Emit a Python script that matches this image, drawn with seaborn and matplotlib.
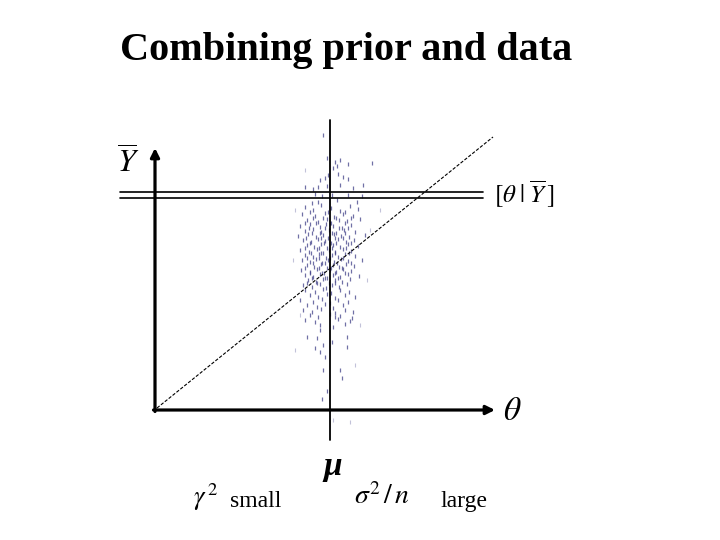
import matplotlib
matplotlib.use("Agg")
import matplotlib.pyplot as plt
import seaborn as sns
import pandas as pd

sns.set_style("white")
plt.rcParams["font.family"] = ["Liberation Serif", "DejaVu Serif"]
plt.rcParams["mathtext.fontset"] = "stix"
plt.rcParams["text.color"] = "black"

# ---- data (diagram units: theta horizontal, Ybar vertical) ----
title = "Combining prior and data"
prior_mean = 175          # position of mu on theta axis
posterior_levels = [218, 212]   # the double line [theta | Ybar]
theta_axis_end = 340
ybar_axis_end = 262
diag_start = [2, 2]
diag_end = [338, 273]

cloud_theta = [
    168, 217, 172, 180, 185, 193, 178, 182, 173, 183, 188, 193, 165, 170, 163, 172, 185, 158, 150, 208,
    198, 177, 160, 167, 193, 207, 182, 157, 163, 202,
    150, 158, 166, 176, 185, 195, 203,
    147, 160, 170, 179, 188, 198,
    152, 163, 172, 176, 184, 192, 205,
    145, 155, 165, 171, 178, 187, 196,
    150, 158, 166, 174, 181, 189, 200,
    143, 153, 161, 168, 173, 179, 186, 194, 210,
    148, 156, 163, 170, 176, 183, 191, 199,
    152, 159, 166, 172, 178, 185, 193, 203,
    145, 154, 162, 168, 174, 180, 188, 196,
    150, 158, 164, 171, 177, 183, 190, 200,
    147, 155, 161, 167, 173, 179, 186, 193, 207,
    152, 159, 166, 172, 178, 184, 191, 199,
    146, 155, 162, 169, 175, 181, 188, 196,
    150, 158, 165, 172, 178, 185, 193, 204,
    153, 161, 168, 174, 180, 187, 195,
    148, 157, 165, 171, 177, 184, 192,
    150, 160, 168, 176, 185, 194,
    155, 163, 172, 180, 190, 200,
    145, 158, 167, 175, 183, 193,
    152, 162, 170, 178, 188,
    148, 157, 166, 180, 190, 198,
    155, 163, 175, 185,
    150, 160, 183, 195,
    165, 178, 190,
    165, 162, 152, 168, 177, 192, 197, 180, 160, 165, 170, 192, 168, 185, 187, 172, 167,
]
cloud_ybar = [
    275, 247, 252, 248, 250, 246, 242, 244, 235, 236, 233, 231, 230, 232, 223, 224, 225, 221, 223, 225,
    222, 215, 216, 214, 215, 214, 210, 207, 208, 208,
    203, 200, 205, 202, 199, 204, 201,
    196, 194, 197, 193, 196, 194,
    190, 188, 191, 187, 190, 189, 191,
    184, 186, 183, 186, 184, 182, 185,
    179, 181, 178, 180, 177, 180, 178,
    174, 176, 173, 175, 172, 176, 174, 173, 175,
    170, 168, 171, 169, 167, 171, 168, 170,
    165, 163, 166, 162, 165, 163, 166, 164,
    160, 158, 161, 157, 160, 158, 161, 159,
    155, 153, 156, 152, 155, 153, 156, 154,
    150, 148, 151, 147, 150, 148, 151, 149, 150,
    145, 143, 146, 142, 145, 143, 146, 144,
    140, 138, 141, 137, 140, 138, 141, 139,
    135, 133, 136, 132, 135, 133, 136, 134,
    130, 128, 131, 127, 130, 128, 131,
    125, 123, 126, 122, 125, 123, 126,
    120, 118, 121, 117, 120, 118,
    115, 113, 116, 112, 115, 113,
    110, 108, 111, 107, 110, 108,
    105, 103, 106, 102, 105,
    100, 98, 101, 97, 100, 98,
    95, 93, 96, 94,
    90, 88, 91, 89,
    85, 83, 86,
    80, 72, 73, 65, 68, 73, 92, 93, 62, 58, 53, 63, 40, 40, 32, 19, 11,
]
core_theta = [
    155, 173, 190, 158, 168, 181, 196, 150, 161, 175, 190, 154, 170, 184, 193,
    157, 165, 177, 190, 151, 166, 180, 188, 155, 169, 181, 196, 150, 164, 177, 191,
    156, 166, 180, 194, 152, 164, 175, 188, 158, 170, 182, 196, 150, 164, 176, 187,
    155, 167, 180, 190, 157, 170, 183, 152, 162, 180,
]
core_ybar = [
    198, 198, 198, 192, 192, 192, 192, 187, 187, 187, 187, 182, 182, 182, 182,
    177, 177, 177, 177, 172, 172, 172, 172, 167, 167, 167, 167, 162, 162, 162, 162,
    157, 157, 157, 157, 152, 152, 152, 152, 147, 147, 147, 147, 142, 142, 142, 142,
    137, 137, 137, 137, 132, 132, 132, 127, 127, 127,
]
faint_theta = [140, 215, 138, 212, 145, 205, 178, 195, 150, 225, 140, 200]
faint_ybar = [200, 180, 150, 130, 95, 85, -10, -12, 240, 200, 60, 45]

# ---- figure: axes fill the whole canvas, 1 unit = 1 pixel ----
fig = plt.figure(figsize=(7.2, 5.4), dpi=100)
ax = fig.add_axes([0, 0, 1, 1])
ax.set_xlim(-155, 565)
ax.set_ylim(-130, 410)
ax.axis("off")

# title
ax.text(191, 350, title, ha="center", va="baseline", fontsize=29,
        fontweight="bold", family="Liberation Serif", color="black")

# scatter cloud
df = pd.DataFrame({"theta": cloud_theta + core_theta, "ybar": cloud_ybar + core_ybar})
sns.scatterplot(data=df, x="theta", y="ybar", ax=ax, marker="|", s=5,
                color="#404088", linewidth=0.9, alpha=0.75, legend=False, zorder=2)
dff = pd.DataFrame({"theta": faint_theta, "ybar": faint_ybar})
sns.scatterplot(data=dff, x="theta", y="ybar", ax=ax, marker="|", s=5,
                color="#9a9ac0", linewidth=0.8, alpha=0.6, legend=False, zorder=2)

# axes with arrows
arrow = dict(arrowstyle="-|>", lw=2.3, color="black", mutation_scale=13,
             shrinkA=0, shrinkB=0)
ax.annotate("", xy=(0, ybar_axis_end), xytext=(0, -1.5), arrowprops=arrow)
ax.annotate("", xy=(theta_axis_end, 0), xytext=(-1.5, 0), arrowprops=arrow)

# prior mean vertical line
ax.plot([prior_mean, prior_mean], [-30, 290], color="black", lw=1.3, zorder=3)

# posterior double line
for lvl in posterior_levels:
    ax.plot([-35, 328], [lvl, lvl], color="black", lw=1.2, zorder=3)

# diagonal
ax.plot([diag_start[0], diag_end[0]], [diag_start[1], diag_end[1]],
        color="black", lw=0.8, ls=(0, (3, 1.5)), zorder=3)

# labels
ax.text(-27, 237, r"$\overline{Y}$", ha="center", va="baseline", fontsize=23)
ax.text(339, 216, r"$[\theta\;|\;\overline{Y}\,]$", ha="left", va="center", fontsize=18)
ax.text(357, -2, r"$\theta$", ha="center", va="center", fontsize=24)
ax.text(178, -57, "μ", ha="center", va="center", fontsize=24,
        fontstyle="italic", fontweight="bold", family="Liberation Serif")
ax.text(51, -87, r"$\gamma^{\,2}$", ha="center", va="center", fontsize=19)
ax.text(75, -97, "small", ha="left", va="baseline", fontsize=17)
ax.text(227, -87, r"$\sigma^{2}\,/\,n$", ha="center", va="center", fontsize=20)
ax.text(285, -97, "large", ha="left", va="baseline", fontsize=17)

fig.savefig("out.png", dpi=100)
